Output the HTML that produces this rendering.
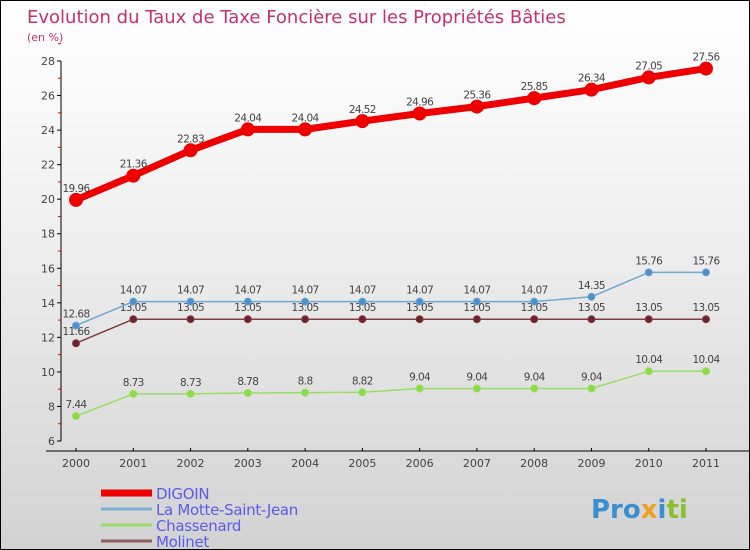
<!DOCTYPE html>
<html><head><meta charset="utf-8"><style>
body{margin:0}
#c{width:748px;height:548px;border:1px solid #000;background:linear-gradient(#ffffff,#f0f0f0 40%,#d2d2d2);position:relative;overflow:hidden;font-family:"DejaVu Sans","Liberation Sans",sans-serif}
svg text{font-family:"DejaVu Sans","Liberation Sans",sans-serif}
</style></head><body>
<div id="c">
<svg id="s" width="748" height="548">
<text x="26" y="22" font-size="18" fill="#c8306a">Evolution du Taux de Taxe Foncière sur les Propriétés Bâties</text>
<text x="26" y="40" font-size="11" fill="#c8306a">(en %)</text>
<text x="590" y="517" font-size="26" font-weight="bold" fill="#3a8fd0">Pro<tspan fill="#f0a020">x</tspan><tspan fill="#3a8fd0">i</tspan><tspan fill="#8ac030">ti</tspan></text>
</svg>
</div>
<script>
const years=[2000,2001,2002,2003,2004,2005,2006,2007,2008,2009,2010,2011];
const digoin=[19.96,21.36,22.83,24.04,24.04,24.52,24.96,25.36,25.85,26.34,27.05,27.56];
const motte=[12.68,14.07,14.07,14.07,14.07,14.07,14.07,14.07,14.07,14.35,15.76,15.76];
const chass=[7.44,8.73,8.73,8.78,8.8,8.82,9.04,9.04,9.04,9.04,10.04,10.04];
const molinet=[11.66,13.05,13.05,13.05,13.05,13.05,13.05,13.05,13.05,13.05,13.05,13.05];
const yTicks=[6,8,10,12,14,16,18,20,22,24,26,28];
const NS="http://www.w3.org/2000/svg",s=document.getElementById('s');
const X=i=>75+i*(630/11), Y=v=>440-(v-6)*(380/22);
function el(t,a,p){const e=document.createElementNS(NS,t);for(const k in a)e.setAttribute(k,a[k]);(p||s).appendChild(e);return e;}
let ax=el('line',{x1:60,y1:Y(28),x2:60,y2:Y(6),stroke:'#000'});


yTicks.forEach(v=>{
 el('line',{x1:56,x2:60,y1:Y(v),y2:Y(v),stroke:'#000'});
 el('line',{x1:57,x2:60,y1:Y(v+1),y2:Y(v+1),stroke:'#e00'});
 const t=el('text',{x:54,y:Y(v)+4,'text-anchor':'end','font-size':11,fill:'#444'});t.textContent=v;
 
 
});
let xa=el('line',{x1:45,y1:450,x2:748,y2:450,stroke:'#000'});


years.forEach((y,i)=>{
 el('line',{x1:X(i),x2:X(i),y1:447,y2:450,stroke:'#000'});
 const t=el('text',{x:X(i),y:466,'text-anchor':'middle','font-size':11,fill:'#444'});t.textContent=y;
 
 
});
function series(d,col,dot,w,r,name){
 const g=el('g',{});
 
 
 el('polyline',{points:d.map((v,i)=>X(i)+','+Y(v)).join(' '),fill:'none',stroke:col,'stroke-width':w,'stroke-linejoin':'round'},g);
 d.forEach((v,i)=>{
  const c=el('circle',{cx:X(i),cy:Y(v),r:r,fill:dot,stroke:col,'stroke-width':1},g);
  
  
  const t=el('text',{x:X(i),y:Y(v)-8,'text-anchor':'middle','font-size':10.5,fill:'#444','letter-spacing':'-0.6'},g);t.textContent=v;
  
  
 });
}
series(chass,'#99dd66','#88dd44',1.5,3.5,'chassenard-series');
series(molinet,'#804040','#702030',1.5,3.5,'molinet-series');
series(motte,'#6fa8d0','#4a90d0',1.5,3.5,'la-motte-series');
series(digoin,'#ee0000','#ee0000',7,6.5,'digoin-series');
const leg=[['DIGOIN','#ee0000',7],['La Motte-Saint-Jean','#7ab0d0',3],['Chassenard','#99dd66',3],['Molinet','#906060',3]];
leg.forEach((l,i)=>{
 const y=492+i*16;
 const g=el('g',{});
 
 
 el('line',{x1:100,x2:151,y1:y,y2:y,stroke:l[1],'stroke-width':l[2]},g);
 const t=el('text',{x:155,y:y+6,'font-size':15,fill:'#5a5aee','letter-spacing':'-0.3'},g);t.textContent=l[0];
});
</script>
</body></html>
